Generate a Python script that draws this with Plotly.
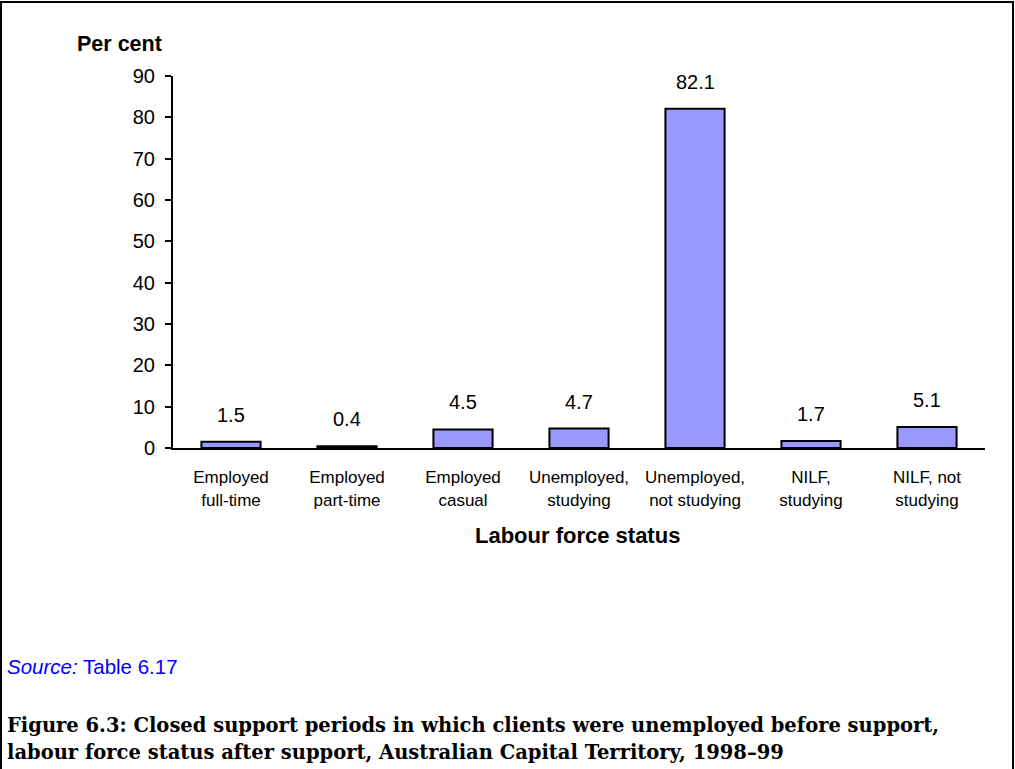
import plotly.graph_objects as go

categories = ["Employed<br>full-time", "Employed<br>part-time", "Employed<br>casual",
              "Unemployed,<br>studying", "Unemployed,<br>not studying",
              "NILF,<br>studying", "NILF, not<br>studying"]
values = [1.5, 0.4, 4.5, 4.7, 82.1, 1.7, 5.1]
y_ticks = [0, 10, 20, 30, 40, 50, 60, 70, 80, 90]

W, H = 1015, 769
L, R, T, B = 173, 985, 76, 448


def px(x):
    return (x - L) / (R - L)


def py(y):
    return (B - y) / (B - T)


fig = go.Figure()
fig.add_trace(go.Bar(
    x=categories, y=values,
    marker=dict(color="#9999FF", line=dict(color="black", width=2)),
    width=0.51,
    hoverinfo="x+y",
))

annotations = []
for c, v in zip(categories, values):
    annotations.append(dict(x=c, y=v, xref="x", yref="y", text=f"{v:.1f}",
                            showarrow=False, yshift=27,
                            font=dict(family="Arial, Liberation Sans", size=20, color="black")))

annotations += [
    dict(x=px(119), y=py(44), xref="paper", yref="paper", text="<b>Per cent</b>",
         showarrow=False, xanchor="center", yanchor="middle",
         font=dict(family="Arial, Liberation Sans", size=21.5, color="black")),
    dict(x=px(577), y=py(535), xref="paper", yref="paper", text="<b>Labour force status</b>",
         showarrow=False, xanchor="center", yanchor="middle",
         font=dict(family="Arial, Liberation Sans", size=22, color="black")),
    dict(x=px(5), y=py(666), xref="paper", yref="paper",
         text="<i>Source:</i> Table 6.17",
         showarrow=False, xanchor="left", yanchor="middle",
         font=dict(family="Arial, Liberation Sans", size=20.5, color="#0000FF")),
    dict(x=px(5), y=py(725), xref="paper", yref="paper",
         text="<b>Figure 6.3: Closed support periods in which clients were unemployed before support,</b>",
         showarrow=False, xanchor="left", yanchor="middle",
         font=dict(family="DejaVu Serif", size=19.5, color="black")),
    dict(x=px(5), y=py(752), xref="paper", yref="paper",
         text="<b>labour force status after support, Australian Capital Territory, 1998–99</b>",
         showarrow=False, xanchor="left", yanchor="middle",
         font=dict(family="DejaVu Serif", size=19.5, color="black")),
]

shapes = [
    dict(type="line", xref="paper", yref="paper", x0=px(1), x1=px(1), y0=py(1), y1=py(775),
         line=dict(color="black", width=2)),
    dict(type="line", xref="paper", yref="paper", x0=px(1013), x1=px(1013), y0=py(1), y1=py(775),
         line=dict(color="black", width=2)),
    dict(type="line", xref="paper", yref="paper", x0=px(0), x1=px(1014), y0=py(2), y1=py(2),
         line=dict(color="black", width=2)),
]

fig.update_layout(
    width=W, height=H,
    margin=dict(l=L, r=W - R, t=T, b=H - B, autoexpand=False),
    paper_bgcolor="white", plot_bgcolor="white",
    showlegend=False,
    bargap=0.49,
    annotations=annotations,
    shapes=shapes,
    xaxis=dict(
        type="category", range=[-0.5, 6.5],
        showline=True, linecolor="black", linewidth=2,
        ticks="", showgrid=False, zeroline=False,
        tickfont=dict(family="Arial, Liberation Sans", size=17, color="black"),
        ticklabelstandoff=13,
    ),
    yaxis=dict(
        range=[0, 90], tickvals=y_ticks,
        showline=True, linecolor="black", linewidth=2,
        ticks="outside", ticklen=6, tickwidth=2, tickcolor="black",
        showgrid=False, zeroline=False,
        tickfont=dict(family="Arial, Liberation Sans", size=20, color="black"),
        ticklabelstandoff=6,
    ),
)

fig.write_html("out.html",
               config={"displayModeBar": False},
               post_script="document.body.style.margin='0';document.body.style.overflow='hidden';")
